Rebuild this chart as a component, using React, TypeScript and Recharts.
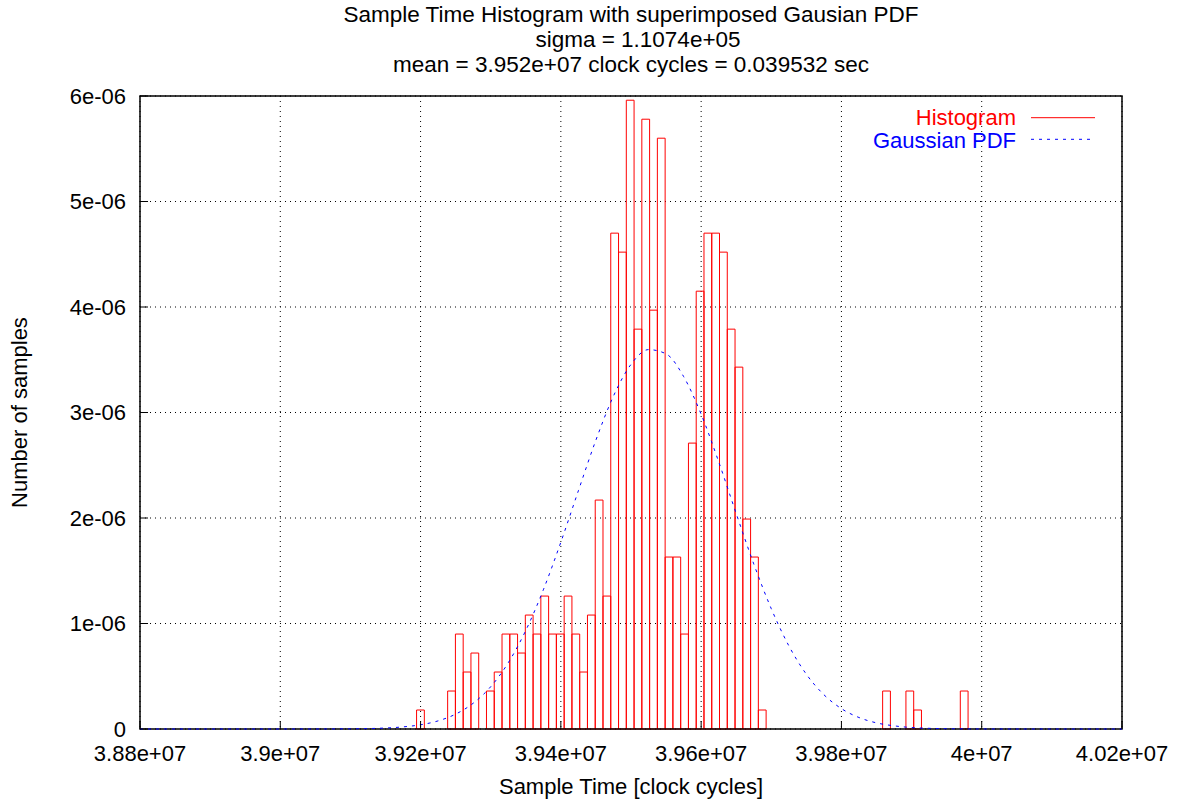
import { ComposedChart, XAxis, YAxis, CartesianGrid, Line, Legend, ReferenceArea } from "recharts"

const FONT = '"Liberation Sans", Arial, Helvetica, sans-serif'

const titleLines = [
  "Sample Time Histogram with superimposed Gausian PDF",
  "sigma = 1.1074e+05",
  "mean = 3.952e+07 clock cycles = 0.039532 sec",
]
const xLabel = "Sample Time [clock cycles]"
const yLabel = "Number of samples"

// histogram bins (clock cycles)
const binStart = 39194300
const binWidth = 11074
// bin heights, in units of 1e-6
const histValues = [
  0.18, 0, 0, 0, 0.36, 0.9, 0.54, 0.72, 0, 0.36,
  0.54, 0.9, 0.9, 0.72, 1.08, 0.9, 1.26, 0.9, 0.9, 1.26,
  0.9, 0.54, 1.08, 2.17, 1.26, 4.7, 4.52, 5.96, 3.79, 5.78,
  3.97, 5.6, 1.63, 1.63, 0.9, 2.71, 4.15, 4.7, 4.7, 4.52,
  3.79, 3.43, 1.99, 1.63, 0.18, 0, 0, 0, 0, 0,
  0, 0, 0, 0, 0, 0, 0, 0, 0, 0,
  0.36, 0, 0, 0.36, 0.18, 0, 0, 0, 0, 0,
  0.36,
]

// gaussian pdf (y in 1e-6)
const gaussX = [
  38800000, 38900000, 39000000, 39050000, 39100000, 39150000, 39175000, 39200000,
  39225000, 39250000, 39275000, 39300000, 39325000, 39350000, 39375000, 39400000,
  39425000, 39450000, 39475000, 39500000, 39525000, 39550000, 39575000, 39600000,
  39625000, 39650000, 39675000, 39700000, 39725000, 39750000, 39775000, 39800000,
  39825000, 39850000, 39875000, 39900000, 39950000, 40000000, 40100000, 40200000,
]
const gaussY = [
  0, 0, 0, 0.0003, 0.0018, 0.0094, 0.02, 0.04,
  0.077, 0.141, 0.244, 0.401, 0.628, 0.934, 1.319, 1.771,
  2.259, 2.739, 3.156, 3.456, 3.596, 3.556, 3.341, 2.984,
  2.533, 2.042, 1.565, 1.14, 0.789, 0.519, 0.325, 0.193,
  0.109, 0.058, 0.03, 0.014, 0.003, 0.0005, 0, 0,
]

const xTicks = [
  38800000, 39000000, 39200000, 39400000, 39600000, 39800000, 40000000, 40200000,
]
const yTicks = [0, 1, 2, 3, 4, 5, 6]

const legendRows = [
  { name: "Histogram", color: "#ff0000", dash: undefined },
  { name: "Gaussian PDF", color: "#0000ff", dash: "3 5" },
]

const bins = histValues
  .map((v, i) => ({ x1: binStart + binWidth * i, x2: binStart + binWidth * (i + 1), v }))
  .filter((b) => b.v > 0)
const gaussData = gaussX.map((x, i) => ({ x, pdf: gaussY[i] }))

const fmtX = (v: number) => `${Math.round(v / 1e5) / 100}e+07`
const fmtY = (v: number) => (v === 0 ? "0" : `${v}e-06`)

function renderLegend() {
  return (
    <svg width={320} height={60} style={{ fontFamily: FONT, display: "block" }}>
      {legendRows.map((r, i) => (
        <g key={r.name}>
          <text x={226} y={25 + i * 22.7} textAnchor="end" fontSize={22} fill={r.color}>
            {r.name}
          </text>
          <line x1={241} x2={305} y1={17.7 + i * 21.6} y2={17.7 + i * 21.6} stroke={r.color} strokeWidth={1} strokeDasharray={r.dash} />
        </g>
      ))}
    </svg>
  )
}

export default function App() {
  return (
    <div style={{ position: "absolute", left: 0, top: 0, width: 1186, height: 800, background: "#fff", fontFamily: FONT }}>
      <div style={{ position: "absolute", left: 140, top: 2, width: 982, textAlign: "center", fontSize: 22.5, lineHeight: "25px", color: "#000" }}>
        {titleLines.map((t, i) => (
          <div key={i} style={{ paddingLeft: i === 1 ? 14 : 0 }}>{t}</div>
        ))}
      </div>
      <ComposedChart
        width={1186}
        height={800}
        data={gaussData}
        margin={{ top: 96, right: 64, bottom: 0, left: 0 }}
        style={{ fontFamily: FONT }}
      >
        <CartesianGrid stroke="#000" strokeDasharray="1 4" />
        <XAxis
          dataKey="x"
          type="number"
          domain={[38800000, 40200000]}
          ticks={xTicks}
          interval={0}
          allowDataOverflow
          height={71}
          tickFormatter={fmtX}
          tick={{ fontSize: 22, fill: "#000" }}
          axisLine={false}
          tickLine={{ stroke: "#000" }}
          tickSize={-8}
          tickMargin={24}
          label={{ value: xLabel, position: "insideBottom", offset: 6, fontSize: 22, fill: "#000" }}
        />
        <XAxis
          xAxisId="top"
          orientation="top"
          type="number"
          domain={[38800000, 40200000]}
          ticks={xTicks}
          interval={0}
          allowDataOverflow
          height={0}
          tick={false}
          axisLine={false}
          tickLine={{ stroke: "#000" }}
          tickSize={-8}
        />
        <YAxis
          type="number"
          domain={[0, 6]}
          ticks={yTicks}
          interval={0}
          width={140}
          tickFormatter={fmtY}
          tick={{ fontSize: 22, fill: "#000" }}
          axisLine={false}
          tickLine={{ stroke: "#000" }}
          tickSize={-8}
          tickMargin={22}
          label={{ value: yLabel, angle: -90, position: "insideLeft", offset: 19, fontSize: 22, fill: "#000", style: { textAnchor: "middle" } }}
        />
        <YAxis
          yAxisId="right"
          orientation="right"
          type="number"
          domain={[0, 6]}
          ticks={yTicks}
          interval={0}
          width={0}
          tick={false}
          axisLine={false}
          tickLine={{ stroke: "#000" }}
          tickSize={-8}
        />
        {bins.map((b) => (
          <ReferenceArea
            key={b.x1}
            x1={b.x1}
            x2={b.x2}
            y1={0}
            y2={b.v}
            fill="none"
            fillOpacity={0}
            stroke="#ff0000"
            strokeWidth={1}
            ifOverflow="visible"
          />
        ))}
        <Line
          dataKey="pdf"
          type="monotone"
          stroke="#0000ff"
          strokeWidth={1}
          strokeDasharray="3 5"
          dot={false}
          activeDot={false}
          isAnimationActive={false}
        />
        <ReferenceArea x1={38800000} x2={40200000} y1={0} y2={6} fill="none" fillOpacity={0} stroke="#000" strokeWidth={1.5} ifOverflow="visible" />
        <Legend
          layout="vertical"
          align="center"
          verticalAlign="middle"
          content={renderLegend}
          wrapperStyle={{ left: 790, top: 100, width: 320, height: 60 }}
        />
      </ComposedChart>
    </div>
  )
}
